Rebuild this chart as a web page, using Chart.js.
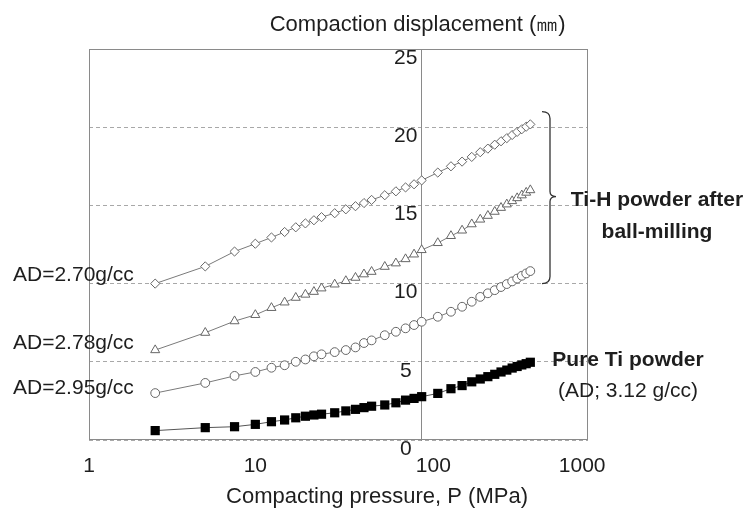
<!DOCTYPE html>
<html><head><meta charset="utf-8">
<script src="https://cdn.jsdelivr.net/npm/chart.js@4"></script>
<style>html,body{margin:0;padding:0;background:#fff}</style>
</head><body>
<canvas id="c" width="752" height="509" style="width:752px;height:509px;display:block"></canvas>
<script>
// ---- data ----
const pressure = [2.5,5,7.5,10,12.5,15,17.5,20,22.5,25,30,35,40,45,50,60,70,80,90,100,125,150,175,200,225,250,275,300,325,350,375,400,425,450];
const ad270 = [10.0,11.1,12.05,12.55,12.95,13.3,13.6,13.85,14.05,14.25,14.5,14.75,14.95,15.15,15.35,15.65,15.9,16.15,16.35,16.6,17.1,17.5,17.8,18.1,18.4,18.63,18.88,19.1,19.3,19.5,19.7,19.87,20.03,20.18];
const ad278 = [5.75,6.86,7.6,8.0,8.45,8.8,9.1,9.3,9.48,9.7,9.95,10.17,10.38,10.6,10.76,11.08,11.3,11.57,11.87,12.15,12.6,13.05,13.4,13.8,14.1,14.34,14.6,14.85,15.07,15.28,15.47,15.65,15.82,15.98];
const ad295 = [3.0,3.65,4.1,4.35,4.62,4.78,5.0,5.15,5.35,5.48,5.62,5.75,5.92,6.2,6.37,6.7,6.92,7.14,7.35,7.56,7.88,8.2,8.52,8.84,9.15,9.38,9.58,9.78,9.97,10.14,10.32,10.5,10.65,10.8];
const pureTi = [0.6,0.79,0.85,1.0,1.17,1.28,1.42,1.52,1.6,1.65,1.74,1.86,1.96,2.07,2.16,2.24,2.38,2.55,2.66,2.77,2.98,3.28,3.48,3.72,3.9,4.05,4.2,4.35,4.47,4.6,4.7,4.8,4.88,4.97];
const seriesLabels = ['AD=2.70g/cc','AD=2.78g/cc','AD=2.95g/cc','Pure Ti powder'];
const xTickValues = [1,10,100,1000];
const yMin = 0, yMax = 25, yStep = 5;
const yAxisAtX = 100;
const titleY = 'Compaction displacement (\u339C)';
const titleX = 'Compacting pressure, P (MPa)';
const groupLabel = ['Ti-H powder after','ball-milling'];
const pureLabel = ['Pure Ti powder','(AD; 3.12 g/cc)'];

const FONT = "'Liberation Sans', Arial, Helvetica, sans-serif";
const TXT = '#1e1e1e';
const pts = arr => pressure.map((p,i)=>({x:p,y:arr[i]}));

const hollow = (label, arr, style, r) => ({
  label, data: pts(arr), pointStyle: style, pointRadius: r, pointHoverRadius: r,
  borderColor:'#7a7a7a', borderWidth:1, pointBorderColor:'#666', pointBackgroundColor:'#fff',
  pointBorderWidth:1, showLine:true, tension:0, fill:false
});

const annot = {
  id:'annot',
  afterDraw(chart){
    const {ctx, chartArea:a, scales:{x,y}} = chart;
    ctx.save();
    // plot frame
    ctx.strokeStyle='#8a8a8a'; ctx.lineWidth=1; ctx.setLineDash([]);
    ctx.strokeRect(Math.round(a.left)+0.5, Math.round(a.top)+0.5, Math.round(a.right-a.left)-1, Math.round(a.bottom-a.top)-1);
    // texts
    ctx.fillStyle=TXT; ctx.textBaseline='middle';
    ctx.font = `22px ${FONT}`;
    ctx.textAlign='center';
    ctx.fillText(titleY, x.getPixelForValue(yAxisAtX)-4, 25);
    ctx.fillText(titleX, chart.width/2+1, 497);
    ctx.textAlign='left';
    ctx.font = `21px ${FONT}`;
    ctx.fillText(seriesLabels[0], 13, 275);
    ctx.fillText(seriesLabels[1], 13, 343);
    ctx.fillText(seriesLabels[2], 13, 388);
    ctx.textAlign='center';
    ctx.font = `bold 21px ${FONT}`;
    ctx.fillText(groupLabel[0], 657, 200);
    ctx.fillText(groupLabel[1], 657, 232);
    ctx.fillText(pureLabel[0], 628, 360);
    ctx.font = `21px ${FONT}`;
    ctx.fillText(pureLabel[1], 628, 391);
    // brace
    const bx = 550, yt = y.getPixelForValue(21.0), yb = y.getPixelForValue(10.0), ym = (yt+yb)/2 - 1;
    ctx.strokeStyle='#333'; ctx.lineWidth=1.3;
    ctx.beginPath();
    ctx.moveTo(bx-8, yt);
    ctx.quadraticCurveTo(bx, yt, bx, yt+7);
    ctx.lineTo(bx, ym-5);
    ctx.quadraticCurveTo(bx, ym, bx+6, ym);
    ctx.quadraticCurveTo(bx, ym, bx, ym+5);
    ctx.lineTo(bx, yb-7);
    ctx.quadraticCurveTo(bx, yb, bx-8, yb);
    ctx.stroke();
    ctx.restore();
  }
};

// tick label text: centred-looking labels beside the axis at x=100
const yLabel = v => (v < 10 ? String(v) + '\u2008\u2009' : String(v) + '\u2009');
const xLabel = v => (v === 100 ? '\u2007\u2007' + v : v === 1000 ? v + '\u2007' : String(v));

new Chart(document.getElementById('c'), {
  type:'line',
  data:{ datasets:[
    hollow(seriesLabels[0], ad270, 'rectRot', 4.6),
    hollow(seriesLabels[1], ad278, 'triangle', 5.2),
    hollow(seriesLabels[2], ad295, 'circle', 4.4),
    { label: seriesLabels[3], data: pts(pureTi), pointStyle:'rect', pointRadius:6.5, pointHoverRadius:6.5,
      borderColor:'#555', borderWidth:1, pointBorderColor:'#000', pointBackgroundColor:'#000',
      pointBorderWidth:0, showLine:true, tension:0, fill:false }
  ]},
  options:{
    responsive:false, animation:false, devicePixelRatio:1,
    layout:{ padding:{ left:89, right:164, top:49, bottom:29 } },
    plugins:{ legend:{display:false}, tooltip:{enabled:false}, title:{display:false} },
    scales:{
      x:{
        type:'logarithmic', position:'bottom', min:1, max:1000,
        afterBuildTicks: s => { s.ticks = xTickValues.map(v=>({value:v})); },
        afterFit: s => { s.height = 40; },
        grid:{ display:false, drawTicks:false },
        border:{ display:false },
        ticks:{ autoSkip:false, maxRotation:0, padding:14, color:TXT, font:{family:FONT, size:21},
                callback: v => xLabel(v) }
      },
      y:{
        type:'linear', position:{ x: yAxisAtX }, min:yMin, max:yMax,
        grid:{ color:'#a8a8a8', lineWidth:1, drawTicks:false },
        border:{ display:true, color:'#8a8a8a', width:1, dash:[4,3] },
        ticks:{ stepSize:yStep, padding:4, labelOffset:9, color:TXT, font:{family:FONT, size:21},
                callback: v => yLabel(v) }
      }
    }
  },
  plugins:[annot]
});
</script>
</body></html>
